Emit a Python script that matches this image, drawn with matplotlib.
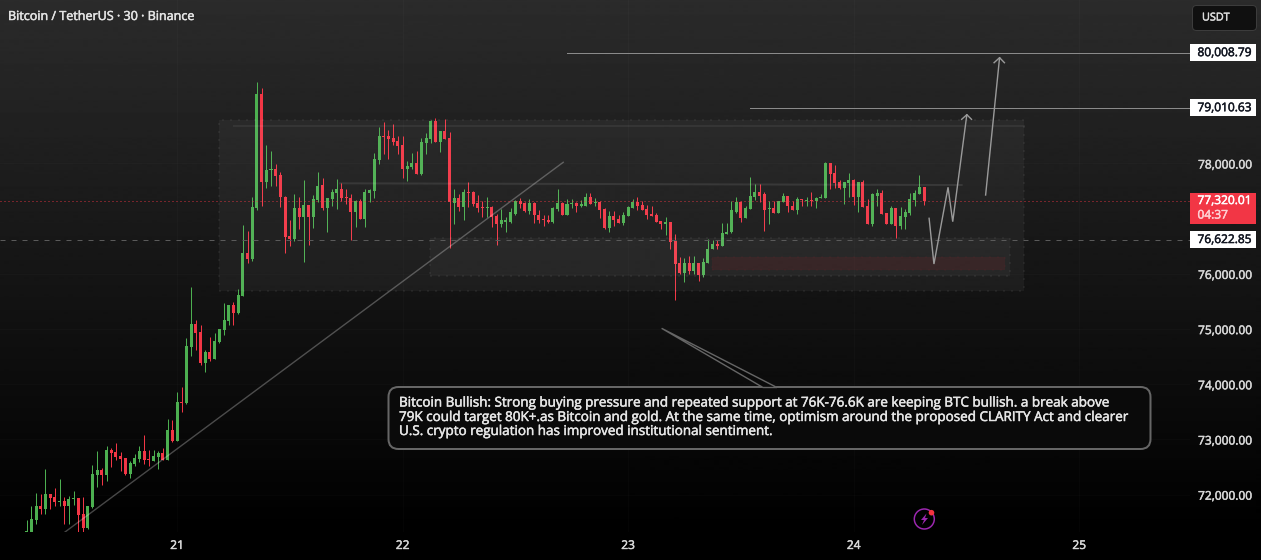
import numpy as np
import matplotlib
matplotlib.use("Agg")
import matplotlib.pyplot as plt
import matplotlib.patheffects as pe
from matplotlib.patches import Rectangle, FancyBboxPatch, Polygon, Circle

plt.rcParams['font.family'] = ['Open Sans', 'DejaVu Sans']

# ---------- data ----------
first_bar = -32   # bars counted from the start of day 21 (30-minute bars)
opens = [71319, 71229, 71549, 71803, 71748, 72020, 71966, 71863, 71893, 71803, 71929, 71948, 71658, 71404, 71784, 72364,
         72455, 72364, 72817, 72781, 72709, 72672, 72382, 72564, 72654, 72799, 72654, 72618, 72690, 72763, 72636, 73180,
         72980, 73687, 73669, 74684, 75100, 74955, 74394, 74593, 74466, 74774,
         74992, 75155, 75445, 75300, 75608, 76387, 76278, 77202, 79250, 77673,
         77891, 77909, 77800, 77402, 76695, 76641, 77202, 77039, 77257, 77039,
         77347, 77602, 77185, 77348, 77457, 77547, 77384, 77366, 77113, 77312,
         76986, 77457, 77493, 78055, 78490, 78490, 78453, 78399, 78327, 77892,
         77928, 78000, 77801, 78363, 78435, 78761, 78381, 78580, 78453, 77276,
         77366, 77203, 77475, 77475, 77276, 77203, 77185, 77203, 77040, 76895,
         76949, 76949, 77094, 77312, 77276, 77131, 77276, 77076, 76986, 76968,
         76949, 77167, 77276, 77058, 77258, 77276, 77221, 77239, 77402, 77276,
         77294, 77167, 76823, 77040, 76986, 76913, 77040, 77185, 77294, 77257,
         77167, 77094, 77058, 76967, 76895, 76949, 76587, 76206, 76025, 76206,
         76061, 76206, 75971, 76206, 76442, 76533, 76514, 76714, 76750, 77130,
         77294, 77004, 77167, 77402, 77475, 77439, 77167, 77185, 77112, 77294,
         77420, 77239, 77149, 77348, 77312, 77330, 77312, 77366, 77366, 78000,
         77819, 77656, 77565, 77638, 77710, 77402, 77656, 77221, 76895, 77420,
         77457, 77112, 76895, 77185, 76859, 77022, 77112, 77330, 77439, 77583]
highs = [71543, 71797, 72032, 72020, 72473, 72020, 72129, 72292, 71966, 71984, 72074, 71948, 71966, 71803, 72546, 72799,
         72491, 72890, 72854, 72944, 72781, 72672, 72618, 72745, 72890, 73089, 72817, 72817, 72799, 72854, 73379, 73361,
         73868, 73959, 74847, 75771, 75173, 75082, 74629, 74865, 74937, 75010,
         75481, 75445, 75499, 75735, 76894, 76786, 77402, 79485, 79359, 78344,
         78235, 77982, 77837, 77420, 76985, 77456, 77384, 77692, 77257, 77438,
         77855, 77729, 77366, 77547, 77711, 77638, 77529, 77439, 77330, 77348,
         77529, 77529, 78182, 78653, 78743, 78598, 78707, 78490, 78490, 78037,
         78182, 78218, 78453, 78544, 78780, 78816, 78580, 78798, 78562, 77547,
         77439, 77547, 77656, 77493, 77421, 77312, 77384, 77239, 77094, 77167,
         77022, 77185, 77330, 77366, 77294, 77348, 77294, 77149, 77076, 77076,
         77203, 77529, 77294, 77348, 77348, 77294, 77330, 77457, 77457, 77366,
         77312, 77185, 77131, 77131, 77076, 77113, 77239, 77348, 77384, 77312,
         77257, 77221, 77112, 76967, 77022, 76949, 76714, 76315, 76279, 76333,
         76333, 76206, 76279, 76641, 76623, 76623, 76913, 76913, 77312, 77384,
         77312, 77239, 77747, 77620, 77620, 77475, 77312, 77312, 77312, 77457,
         77420, 77312, 77402, 77348, 77402, 77475, 77402, 77439, 78036, 78018,
         77964, 77710, 77656, 77819, 77728, 77656, 77692, 77348, 77457, 77529,
         77511, 77112, 77239, 77185, 77203, 77167, 77457, 77511, 77783, 77583]
lows = [71313, 71199, 71476, 71658, 71658, 71748, 71803, 71803, 71476, 71476, 71821, 71229, 71331, 71386, 71766, 72147,
        72183, 72256, 72509, 72636, 72437, 72364, 72310, 72527, 72600, 72564, 72527, 72618, 72473, 72636, 72636, 72962,
        72980, 73506, 73651, 74521, 74629, 74358, 74231, 74430, 74466, 74756,
        74901, 75082, 75082, 75282, 75608, 76194, 76242, 77166, 77239, 77565,
        77601, 77601, 77220, 76387, 76514, 76604, 76822, 76224, 76532, 76840,
        77311, 77149, 76768, 77221, 77167, 77312, 77258, 76623, 76841, 76986,
        76841, 77294, 77366, 77982, 78164, 78073, 78327, 78164, 77729, 77674,
        77892, 77801, 77783, 78164, 78363, 78381, 78200, 78435, 76478, 76895,
        77131, 76968, 77203, 77239, 77113, 77022, 77022, 76841, 76515, 76841,
        76750, 76931, 77058, 77185, 77113, 77094, 76931, 76913, 76859, 76913,
        76931, 77131, 77058, 77058, 77185, 77113, 77203, 77239, 77258, 77239,
        77004, 76805, 76750, 76859, 76913, 76877, 77040, 77185, 77149, 77149,
        76986, 77040, 76949, 76822, 76696, 76460, 75518, 76007, 75862, 76007,
        76007, 75880, 75935, 76206, 76442, 76442, 76514, 76714, 76732, 77112,
        76949, 77004, 77167, 77330, 77294, 76786, 76895, 77112, 77112, 77294,
        77130, 77149, 77094, 77239, 77239, 77239, 77185, 77366, 77366, 77529,
        77565, 77547, 77275, 77384, 77257, 77130, 77203, 76895, 76859, 77221,
        77094, 76895, 76895, 76659, 76822, 76822, 77058, 77221, 77439, 77257]
closes = [71331, 71567, 71803, 71748, 72020, 71948, 71863, 71893, 71803, 71929, 71948, 71640, 71404, 71803, 72382, 72455,
          72364, 72817, 72763, 72690, 72654, 72382, 72582, 72672, 72799, 72636, 72636, 72709, 72763, 72636, 73180, 72980,
          73687, 73669, 74702, 75100, 74937, 74394, 74593, 74466, 74792, 75010,
          75173, 75445, 75300, 75626, 76387, 76278, 77220, 79250, 77673, 77891,
          77909, 77782, 77384, 76677, 76641, 77202, 77039, 77257, 77039, 77365,
          77601, 77185, 77366, 77475, 77547, 77366, 77366, 77113, 77312, 76986,
          77475, 77511, 78073, 78490, 78472, 78435, 78381, 78308, 77892, 77946,
          78000, 77801, 78381, 78453, 78761, 78381, 78580, 78435, 77294, 77366,
          77203, 77475, 77457, 77258, 77185, 77185, 77203, 77022, 76895, 76968,
          76968, 77113, 77312, 77258, 77131, 77276, 77058, 76968, 76968, 76949,
          77185, 77276, 77058, 77258, 77276, 77221, 77258, 77402, 77258, 77294,
          77149, 76823, 77040, 76968, 76913, 77058, 77203, 77294, 77239, 77149,
          77076, 77040, 76949, 76895, 76949, 76569, 76188, 76025, 76206, 76061,
          76206, 75971, 76224, 76460, 76533, 76514, 76732, 76768, 77149, 77294,
          77004, 77185, 77420, 77475, 77420, 77149, 77185, 77112, 77312, 77420,
          77221, 77149, 77348, 77330, 77330, 77312, 77366, 77384, 78000, 77801,
          77638, 77565, 77656, 77710, 77402, 77656, 77203, 76895, 77439, 77457,
          77094, 76895, 77185, 76859, 77040, 77130, 77348, 77457, 77583, 77320]

day_bars = [0, 48, 96, 144, 192]
day_labels = ['21', '22', '23', '24', '25']
price_ticks = [78000, 76000, 75000, 74000, 73000, 72000]
target_hi = 80008.79
target_lo = 79010.63
last_price = 77320.01
support = 76622.85
countdown = '04:37'
title = 'Bitcoin / TetherUS · 30 · Binance'
note_lines = ['Bitcoin Bullish: Strong buying pressure and repeated support at 76K-76.6K are keeping BTC bullish. a break above',
              '79K could target 80K+.as Bitcoin and gold. At the same time, optimism around the proposed CLARITY Act and clearer',
              'U.S. crypto regulation has improved institutional sentiment.']

GREEN = '#4caf50'
RED = '#f23645'
W, H = 1261, 560
PANE_R, PANE_B = 1190, 532
px = 0.72  # one pixel in points at dpi 100


def heavier(color, amount=0.35):
    return [pe.withStroke(linewidth=amount, foreground=color)]


# ---------- figure ----------
fig = plt.figure(figsize=(W / 100, H / 100), dpi=100, facecolor='black')

bg = fig.add_axes([0, 0, 1, 1], zorder=0)
bg.axis('off')
shade = np.clip(43 * (1 - np.linspace(0, 560, 561) / PANE_B), 0, 43)[:, None] / 255
bg.imshow(shade, cmap='gray', vmin=0, vmax=1, aspect='auto', extent=[0, W, H, 0])

ax = fig.add_axes([0, 1 - PANE_B / H, PANE_R / W, PANE_B / H], zorder=1)
ax.patch.set_alpha(0)
ax.set_xlim(-37.68, 215.6)
ax.set_ylim(71324, 80962)
for s in ax.spines.values():
    s.set_visible(False)

# ---------- axes ticks ----------
ax.set_xticks(day_bars, day_labels)
ax.yaxis.tick_right()
ax.set_yticks(price_ticks, [f'{v:,.2f}' for v in price_ticks])
ax.tick_params(axis='x', length=0, pad=5, labelsize=8.6, labelcolor='#d8d8d8')
ax.tick_params(axis='y', length=0, pad=5.8, labelsize=8.6, labelcolor='#d8d8d8')
for lab in ax.get_xticklabels() + ax.get_yticklabels():
    lab.set_path_effects(heavier('#d8d8d8'))
ax.grid(True, color='white', alpha=0.018, lw=px)
ax.set_axisbelow(True)

# ---------- candles ----------
bars = np.arange(first_bar, first_bar + len(opens))
o, h, l, c = map(np.array, (opens, highs, lows, closes))
cols = [GREEN if ci >= oi else RED for oi, ci in zip(o, c)]
wicks = ax.vlines(bars, l, h, colors=cols, linewidth=px, zorder=2)
wicks.set_snap(True)
ax.bar(bars, np.maximum(np.abs(c - o), 18), bottom=np.minimum(o, c), width=0.64,
       color=cols, linewidth=0, zorder=2.1)


# ---------- zones ----------
def zone(x0, x1, y0, y1, face, edge):
    ax.add_patch(Rectangle((x0, y0), x1 - x0, y1 - y0, facecolor=face, edgecolor=edge,
                           linewidth=2 * px, linestyle=(0, (1, 3)), zorder=3))


zone(8.94, 180.2, 75699, 78779, (1, 1, 1, 0.045), (1, 1, 1, 0.05))
zone(53.85, 177.3, 75967, 76650, (1, 1, 1, 0.04), (1, 1, 1, 0.05))
zone(113.9, 176.2, 76071, 76312, (0.78, 0.12, 0.16, 0.11), (0.78, 0.12, 0.16, 0.05))

ax.plot([12.13, 180.2], [78688, 78688], color='white', alpha=0.06, lw=2 * px, zorder=3)
ax.plot([34.7, 167], [77641, 77610], color='white', alpha=0.09, lw=2 * px, zorder=3)

# ---------- levels and trend ----------
ax.plot([-23.84, 82.2], [71324, 78022], color='white', alpha=0.27, lw=1.4 * px, zorder=4)
ax.plot([83, 215.6], [target_hi, target_hi], color='#8a8a8a', lw=px, zorder=4)
ax.plot([122, 215.6], [target_lo, target_lo], color='#8a8a8a', lw=px, zorder=4)
ax.axhline(last_price, color=RED, lw=px, ls=(0, (1, 3)), alpha=0.85, zorder=4)
ax.axhline(support, color='#5a5a5a', lw=px, ls=(0, (5, 6)), zorder=4)

# ---------- forecast path (bar index, price) ----------
path_x = [160.07, 161.1, 164.1, 165.1, 168.1]
path_y = [77007, 76179, 77569, 76946, 78884]
ax.plot(path_x, path_y, color='#9a9a9a', lw=1.4 * px, zorder=4, solid_joinstyle='miter')
ax.plot([167, 168.1, 169.1], [78800, 78884, 78800], color='#9a9a9a', lw=1.4 * px, zorder=4)
ax.plot([172.1, 175.07], [77429, 79917], color='#9a9a9a', lw=1.4 * px, zorder=4)
ax.plot([173.9, 175.07, 176.1], [79826, 79917, 79826], color='#9a9a9a', lw=1.4 * px, zorder=4)

# ---------- overlay in pixels ----------
ov = fig.add_axes([0, 0, 1, 1], zorder=2)
ov.axis('off')
ov.patch.set_alpha(0)
ov.set_xlim(0, W)
ov.set_ylim(H, 0)


def py(p):
    return 163.5 + (78000 - p) * 0.0552


ov.text(8, 16.5, title, color='#e4e4e4', fontsize=9.04, va='center', ha='left',
        path_effects=heavier('#e4e4e4'))

# USDT button
ov.add_patch(FancyBboxPatch((1192.5, 5.5), 64, 25, boxstyle='round,pad=0,rounding_size=4',
                            facecolor='#101010', edgecolor='#3c3c3c', lw=px))
ov.text(1202, 18, 'USDT', color='#dcdcdc', fontsize=7.8, va='center', ha='left', path_effects=heavier('#dcdcdc'))

# price labels
for val in (target_hi, target_lo, support):
    yc = py(val)
    ov.add_patch(Rectangle((1190, yc - 8.5), 66, 17, facecolor='white', edgecolor='none'))
    ov.text(1197.5, yc, f'{val:,.2f}', color='#131722', fontsize=8.6, va='center', ha='left',
            path_effects=heavier('#131722'))

yc = py(last_price)
ov.add_patch(Rectangle((1190, yc - 8), 66, 30.5, facecolor=RED, edgecolor='none'))
ov.text(1197.5, yc - 0.5, f'{last_price:,.2f}', color='white', fontsize=8.6, va='center', ha='left',
        path_effects=heavier('white'))
ov.text(1197.5, yc + 14, countdown, color='#ffd0d4', fontsize=8.6, va='center', ha='left',
        path_effects=heavier('#ffd0d4'))

# callout
ov.add_patch(FancyBboxPatch((388.5, 387), 762, 62, boxstyle='round,pad=0,rounding_size=10',
                            facecolor='#0a0a0a', edgecolor='#666666', lw=2 * px, zorder=5))
ov.add_patch(Polygon([(763, 387.5), (661.6, 328.3), (777, 387.5)], closed=True,
                     facecolor='#0a0a0a', edgecolor='#666666', lw=1.4 * px, zorder=6))
for text_y, line in zip((403, 417.5, 431.5), note_lines):
    ov.text(399, text_y, line, color='#e6e6e6', fontsize=9.7, va='center', ha='left', zorder=7,
            path_effects=heavier('#e6e6e6'))

# lightning badge
ov.add_patch(Circle((924.3, 519), 10, facecolor='none', edgecolor='#9c27b0', lw=1.5 * px))
ov.add_patch(Polygon([(926.5, 513.5), (921, 520), (924, 520), (922, 525), (928, 518), (925, 518)],
                     closed=True, facecolor='#9c27b0', edgecolor='none'))
ov.add_patch(Circle((931.5, 512.7), 2.8, facecolor='#f5333f', edgecolor='none'))

fig.savefig('out.png', dpi=100, facecolor='black')
